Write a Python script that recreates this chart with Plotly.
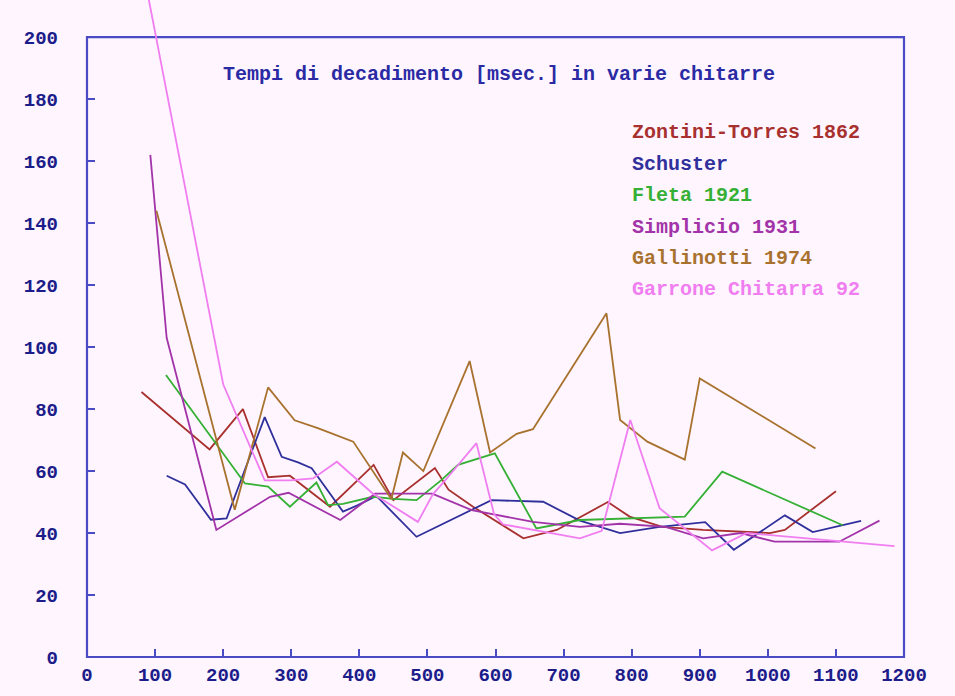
import plotly.graph_objects as go

# ---- data (frequency [Hz] vs decay time [msec.]) ----
zontini_x = [80, 180, 229, 266, 298, 357, 421, 450, 511, 531, 567, 641, 690, 765, 797, 845, 905, 1003, 1025, 1100]
zontini_y = [85.5, 67, 80, 58, 58.5, 48.5, 62, 50.6, 61, 54, 48.5, 38.3, 41, 50, 45.3, 42, 41, 40, 41, 53.5]

schuster_x = [117, 144, 182, 205, 261, 286, 310, 330, 376, 398, 425, 484, 594, 670, 724, 783, 841, 908, 950, 1025, 1066, 1137]
schuster_y = [58.5, 55.7, 44.3, 44.7, 77.4, 64.6, 62.8, 60.9, 46.9, 49, 52, 38.8, 50.6, 50.1, 44, 40, 42, 43.5, 34.6, 45.7, 40.3, 43.9]

fleta_x = [116, 232, 266, 298, 337, 354, 376, 420, 450, 484, 520, 545, 599, 660, 724, 783, 878, 933, 1110]
fleta_y = [91, 56, 55, 48.5, 56.3, 49, 49.4, 51.7, 51, 50.6, 57, 62, 65.7, 41.5, 44.2, 44.7, 45.3, 59.8, 42.5]

simplicio_x = [93, 117, 190, 269, 296, 372, 423, 507, 565, 655, 724, 783, 850, 905, 960, 1010, 1105, 1164]
simplicio_y = [162, 103, 41, 51.7, 53, 44.2, 52.7, 52.7, 47.4, 43.6, 42, 43, 42, 38.3, 40, 37.2, 37.2, 44]

gallinotti_x = [102, 217, 266, 305, 340, 391, 447, 464, 494, 562, 592, 631, 655, 763, 783, 823, 878, 900, 1070]
gallinotti_y = [144, 47.5, 87, 76.4, 73.8, 69.5, 51, 66, 60, 95.5, 66, 72, 73.5, 110.9, 76.5, 69.5, 63.7, 89.9, 67.3]

garrone_x = [90, 200, 261, 298, 332, 367, 420, 486, 508, 530, 572, 598, 611, 724, 756, 798, 841, 918, 969, 1186]
garrone_y = [213, 88, 57, 57, 57.6, 63, 52.7, 43.6, 52.5, 58, 69, 46, 42.8, 38.3, 40.7, 76.5, 48, 34.4, 40, 35.8]

series_names = ["Zontini-Torres 1862", "Schuster", "Fleta 1921",
                "Simplicio 1931", "Gallinotti 1974", "Garrone Chitarra 92"]

x_ticks = [0, 100, 200, 300, 400, 500, 600, 700, 800, 900, 1000, 1100, 1200]
x_tick_labels = ["0", "100", "200", "300", "400", "500", "600", "700", "800", "900", "1000", "1100", "1200"]
y_ticks = [0, 20, 40, 60, 80, 100, 120, 140, 160, 180, 200]
y_tick_labels = ["0", "20", "40", "60", "80", "100", "120", "140", "160", "180", "200"]

title_text = "Tempi di decadimento [msec.] in varie chitarre"

# ---- styles ----
colors = ["#a8302e", "#30309c", "#34b034", "#a233a8", "#a8722e", "#f07ef0"]
bg = "#fef5fe"
frame_col = "#4a4ac4"
tick_col = "#1c1c8a"
FONT = "Liberation Mono"
Y_MAX_VIEW = 212

xs = [zontini_x, schuster_x, fleta_x, simplicio_x, gallinotti_x, garrone_x]
ys = [zontini_y, schuster_y, fleta_y, simplicio_y, gallinotti_y, garrone_y]

fig = go.Figure()
for name, x, y, c in zip(series_names, xs, ys, colors):
    fig.add_trace(go.Scatter(x=x, y=y, mode="lines", name=name,
                             line=dict(color=c, width=1.8)))

# frame of the plot box (whole x range, y from 0 up to the 200 tick)
fig.add_shape(type="rect", xref="paper", yref="paper", x0=0, x1=1,
              y0=0, y1=y_ticks[-1] / Y_MAX_VIEW,
              line=dict(color=frame_col, width=2.2), layer="below")

# legend as coloured text
leg_y = [0.7976, 0.7489, 0.7017, 0.6530, 0.6058, 0.5586]
for name, c, yy in zip(series_names, colors, leg_y):
    fig.add_annotation(x=0.6646, y=yy, xref="paper", yref="paper", text=name,
                       showarrow=False, xanchor="left", yanchor="middle",
                       font=dict(family=FONT, size=20, color=c, weight="bold"))

fig.update_layout(
    width=955, height=696,
    margin=dict(l=87, r=51, t=0, b=39),
    paper_bgcolor=bg, plot_bgcolor=bg,
    showlegend=False,
    title=dict(text=title_text, x=0.5225, y=0.895, xanchor="center", yanchor="middle",
               font=dict(family=FONT, size=20, color="#2a2aa4", weight="bold")),
    xaxis=dict(range=[0, 1200], tickvals=x_ticks, ticktext=x_tick_labels,
               showgrid=False, zeroline=False, showline=False,
               ticks="inside", ticklen=8, tickwidth=2, tickcolor=frame_col,
               ticklabelstandoff=4,
               tickfont=dict(family=FONT, size=19, color=tick_col, weight="bold")),
    yaxis=dict(range=[0, Y_MAX_VIEW], tickvals=y_ticks, ticktext=y_tick_labels,
               showgrid=False, zeroline=False, showline=False,
               ticks="inside", ticklen=8, tickwidth=2, tickcolor=frame_col,
               ticklabelstandoff=28,
               tickfont=dict(family=FONT, size=19, color=tick_col, weight="bold")),
)

fig.write_html(
    "out.html",
    config={"displayModeBar": False},
    post_script="document.body.style.margin='0';document.body.style.background='#fef5fe';",
)
